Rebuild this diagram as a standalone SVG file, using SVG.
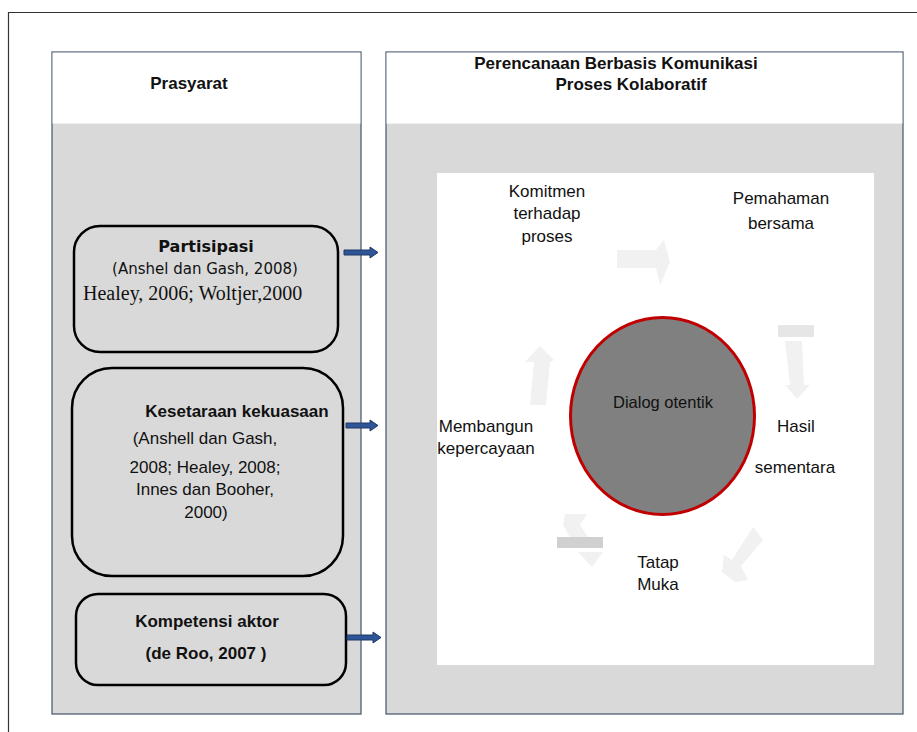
<svg xmlns="http://www.w3.org/2000/svg" width="917" height="732" viewBox="0 0 917 732">
<style>
.t{font-family:"Liberation Sans",Arial,sans-serif;fill:#111;}
.b{font-weight:bold;font-size:17px;}
.n{font-size:17px;}
.c{text-anchor:middle;}
.panel{stroke:#44546a;stroke-width:1.2;}
.box{fill:#d9d9d9;stroke:#000;stroke-width:2.5;}
.ghost{fill:#f1f1f1;}
.conn{fill:#2e5597;stroke:#1f3864;stroke-width:1;}
</style>
<rect width="917" height="732" fill="#fff"/>
<path d="M8.5,732 V12.5 H917" fill="none" stroke="#333" stroke-width="1.2"/>

<g id="panel-prasyarat">
<rect x="52" y="52" width="309" height="662" fill="#d9d9d9" class="panel"/>
<rect x="52.6" y="52.6" width="307.8" height="71" fill="#fff"/>
<text class="t b c" x="189" y="89">Prasyarat</text>
</g>

<g id="panel-proses">
<rect x="386" y="52" width="517" height="662" fill="#d9d9d9" class="panel"/>
<rect x="386.6" y="52.6" width="515.8" height="71" fill="#fff"/>
<text class="t b c" x="616" y="69">Perencanaan Berbasis Komunikasi</text>
<text class="t b c" x="631" y="90">Proses Kolaboratif</text>
<rect x="437" y="173" width="437" height="492" fill="#fff"/>
</g>

<g id="node-partisipasi">
<rect x="74" y="226" width="264" height="126" rx="26" class="box"/>
<text class="c" x="206" y="252" font-family="DejaVu Sans,Verdana,sans-serif" font-weight="bold" font-size="16" fill="#111">Partisipasi</text>
<text class="c" x="205" y="274" font-family="DejaVu Sans,Verdana,sans-serif" font-size="15" fill="#111">(Anshel dan Gash, 2008)</text>
<text x="83" y="300" font-family="Liberation Serif,Times New Roman,serif" font-size="20" fill="#111">Healey, 2006; Woltjer,2000</text>
</g>

<g id="node-kesetaraan">
<rect x="72" y="368" width="271" height="208" rx="40" class="box"/>
<text class="t b c" x="237" y="417">Kesetaraan kekuasaan</text>
<text class="t n c" x="205" y="444">(Anshell dan Gash,</text>
<text class="t n c" x="205" y="473">2008; Healey, 2008;</text>
<text class="t n c" x="205" y="495">Innes dan Booher,</text>
<text class="t n c" x="206" y="518">2000)</text>
</g>

<g id="node-kompetensi">
<rect x="76" y="594" width="270" height="91" rx="22" class="box"/>
<text class="t b c" x="207" y="627">Kompetensi aktor</text>
<text class="t b c" x="206" y="659">(de Roo, 2007 )</text>
</g>

<g id="node-dialog">
<ellipse cx="662.5" cy="416" rx="92" ry="98.5" fill="#808080" stroke="#c00000" stroke-width="3"/>
<text class="t c" x="663" y="408" font-size="16.5" fill="#222">Dialog otentik</text>
</g>

<g id="cycle-labels">
<text class="t n c" x="547" y="197">Komitmen</text>
<text class="t n c" x="547" y="219">terhadap</text>
<text class="t n c" x="547" y="242">proses</text>
<text class="t n c" x="781" y="204">Pemahaman</text>
<text class="t n c" x="781" y="229">bersama</text>
<text class="t n c" x="796" y="432">Hasil</text>
<text class="t n c" x="795" y="473">sementara</text>
<text class="t n c" x="486" y="432">Membangun</text>
<text class="t n c" x="486" y="454">kepercayaan</text>
<text class="t n c" x="658" y="568">Tatap</text>
<text class="t n c" x="658" y="590">Muka</text>
</g>

<g id="cycle-arrows">
<polygon class="ghost" points="617,250 656,250 664,240 670,262 660,285 656,268 617,268"/>
<rect x="778" y="325" width="36" height="12" fill="#e6e6e6"/>
<polygon class="ghost" points="785,341 802,341 804,385 810,385 797,399 785,385 790,385"/>
<polygon class="ghost" points="540,346 554,360 550,362 546,405 530,405 534,362 525,362"/>
<polygon class="ghost" points="565,514 587,514 580,525 588,537 570,537 563,525"/>
<rect x="557" y="537" width="46" height="11" fill="#d0d0d0"/>
<polygon class="ghost" points="578,552 603,552 592,567"/>
<polygon class="ghost" points="753,527 763,540 741,566 748,580 735,582 722,572 724,555 732,560"/>
</g>

<g id="connectors">
<polygon class="conn" points="344,250 370,250 370,247 378,252.5 370,258 370,255 344,255"/>
<polygon class="conn" points="346,423 370,423 370,420 378,425.5 370,431 370,428 346,428"/>
<polygon class="conn" points="347,635 373,635 373,632 381,637.5 373,643 373,640 347,640"/>
</g>
</svg>
